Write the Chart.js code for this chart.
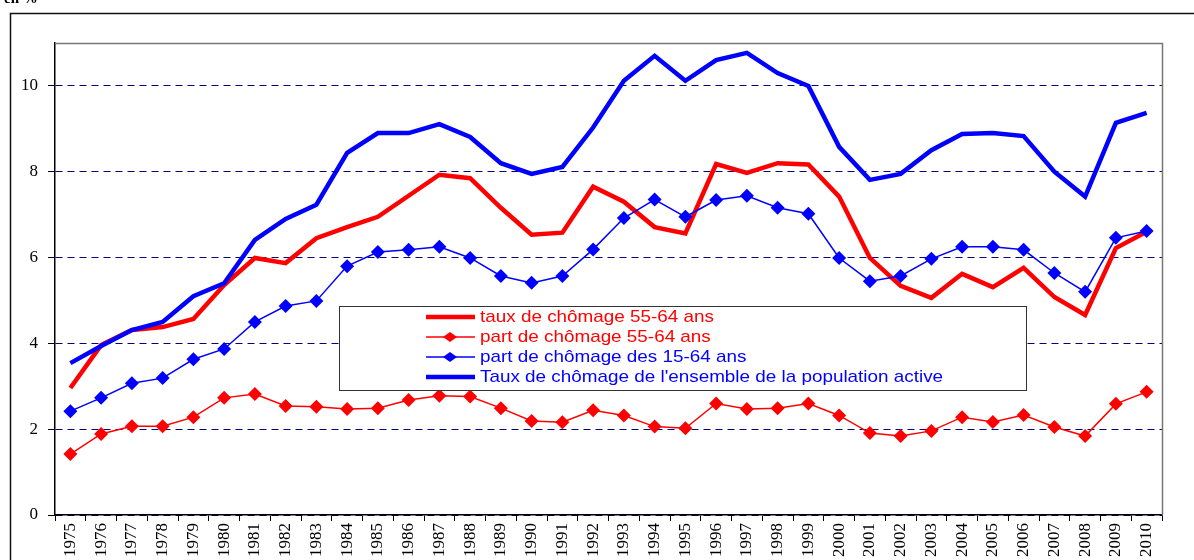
<!DOCTYPE html>
<html>
<head>
<meta charset="utf-8">
<script src="https://cdn.jsdelivr.net/npm/chart.js@4"></script>
<style>
  html, body { margin: 0; padding: 0; background: #fff; }
  #wrap { width: 1194px; height: 560px; position: relative; overflow: hidden; }
</style>
</head>
<body>
<div id="wrap"><canvas id="chart" width="1194" height="560"></canvas></div>
<script>
// Données (en %)
const annees = ['1975', '1976', '1977', '1978', '1979', '1980', '1981', '1982', '1983', '1984',
    '1985', '1986', '1987', '1988', '1989', '1990', '1991', '1992', '1993', '1994',
    '1995', '1996', '1997', '1998', '1999', '2000', '2001', '2002', '2003', '2004',
    '2005', '2006', '2007', '2008', '2009', '2010'];

const tauxChomage5564 = [2.96, 3.96, 4.31, 4.38, 4.57, 5.36, 5.99, 5.87, 6.45, 6.71,
    6.95, 7.44, 7.93, 7.85, 7.16, 6.53, 6.58, 7.65, 7.3, 6.71,
    6.56, 8.18, 7.97, 8.2, 8.17, 7.42, 5.99, 5.34, 5.06, 5.62,
    5.31, 5.76, 5.08, 4.66, 6.22, 6.6];

const partChomage5564 = [1.42, 1.89, 2.07, 2.07, 2.28, 2.73, 2.82, 2.54, 2.52, 2.47,
    2.49, 2.68, 2.78, 2.76, 2.49, 2.19, 2.16, 2.44, 2.32, 2.06,
    2.02, 2.6, 2.47, 2.49, 2.6, 2.32, 1.91, 1.84, 1.96, 2.28,
    2.17, 2.33, 2.05, 1.84, 2.59, 2.87];

const partChomage1564 = [2.42, 2.73, 3.07, 3.19, 3.63, 3.87, 4.5, 4.87, 4.99, 5.8,
    6.13, 6.18, 6.25, 5.99, 5.57, 5.41, 5.57, 6.19, 6.92, 7.35,
    6.95, 7.34, 7.44, 7.16, 7.02, 5.99, 5.45, 5.57, 5.97, 6.25,
    6.25, 6.18, 5.64, 5.2, 6.46, 6.62];

const tauxEnsemble = [3.54, 3.94, 4.31, 4.5, 5.1, 5.4, 6.41, 6.9, 7.23, 8.44,
    8.9, 8.9, 9.11, 8.81, 8.2, 7.95, 8.11, 9.03, 10.12, 10.7,
    10.12, 10.6, 10.77, 10.3, 10.0, 8.58, 7.81, 7.95, 8.5, 8.88,
    8.9, 8.83, 8.0, 7.42, 9.14, 9.37];

const yTicks = [0, 2, 4, 6, 8, 10];

// Cadre extérieur + bordures haut/droite de la zone de tracé
const cadrePlugin = {
    id: 'cadre',
    beforeDraw(chart) {
        const ctx = chart.ctx;
        ctx.save();
        ctx.fillStyle = '#fff';
        ctx.fillRect(0, 0, chart.width, chart.height);
        ctx.strokeStyle = '#111';
        ctx.lineWidth = 1.5;
        ctx.strokeRect(10.5, 13.5, 1300, 700);
        // petit texte coupé en haut à gauche
        ctx.fillStyle = '#000';
        ctx.font = 'bold 15px "Liberation Serif"';
        ctx.fillText('en %', 4, 3);
        ctx.restore();
    },
    afterDraw(chart) {
        const ctx = chart.ctx;
        const a = chart.chartArea;
        ctx.save();
        ctx.strokeStyle = '#777';
        ctx.lineWidth = 1.5;
        ctx.beginPath();
        ctx.moveTo(a.left, a.top + 0.5);
        ctx.lineTo(a.right + 0.5, a.top + 0.5);
        ctx.lineTo(a.right + 0.5, a.bottom);
        ctx.stroke();
        ctx.restore();
    }
};

// Légende encadrée au milieu du graphique
const legendePlugin = {
    id: 'legende',
    afterDraw(chart) {
        const ctx = chart.ctx;
        const box = { x: 339.5, y: 306.5, w: 687, h: 84 };
        ctx.save();
        ctx.fillStyle = '#fff';
        ctx.fillRect(box.x, box.y, box.w, box.h);
        ctx.strokeStyle = '#333';
        ctx.lineWidth = 1;
        ctx.strokeRect(box.x, box.y, box.w, box.h);
        ctx.font = '17px "Liberation Sans", Arial, sans-serif';
        ctx.textBaseline = 'middle';
        const rows = [317, 337, 357, 377];
        chart.data.datasets.forEach((ds, i) => {
            const y = rows[i];
            ctx.strokeStyle = ds.borderColor;
            ctx.lineWidth = ds.borderWidth;
            ctx.beginPath();
            ctx.moveTo(426, y);
            ctx.lineTo(475, y);
            ctx.stroke();
            if (ds.pointRadius > 0) {
                ctx.fillStyle = ds.borderColor;
                ctx.beginPath();
                ctx.moveTo(450, y - 5);
                ctx.lineTo(457, y);
                ctx.lineTo(450, y + 5);
                ctx.lineTo(443, y);
                ctx.closePath();
                ctx.fill();
            }
            // texte un peu étiré en largeur comme dans l'original
            ctx.save();
            ctx.translate(480, y);
            ctx.scale(1.11, 1);
            ctx.fillStyle = ds.borderColor;
            ctx.fillText(ds.label, 0, 0);
            ctx.restore();
        });
        ctx.restore();
    }
};

new Chart(document.getElementById('chart'), {
    type: 'line',
    data: {
        labels: annees,
        datasets: [{
            label: 'taux de chômage 55-64 ans',
            data: tauxChomage5564,
            borderColor: '#ff0000',
            backgroundColor: '#ff0000',
            borderWidth: 4.5,
            pointRadius: 0,
            tension: 0,
            order: 4
        }, {
            label: 'part de chômage 55-64 ans',
            data: partChomage5564,
            borderColor: '#ff0000',
            backgroundColor: '#ff0000',
            borderWidth: 1.5,
            pointStyle: 'rectRot',
            pointRadius: 7,
            pointBorderWidth: 0,
            tension: 0,
            order: 3
        }, {
            label: 'part de chômage des 15-64 ans',
            data: partChomage1564,
            borderColor: '#0000ff',
            backgroundColor: '#0000ff',
            borderWidth: 1.5,
            pointStyle: 'rectRot',
            pointRadius: 7,
            pointBorderWidth: 0,
            tension: 0,
            order: 2
        }, {
            label: "Taux de chômage de l'ensemble de la population active",
            data: tauxEnsemble,
            borderColor: '#0000ff',
            backgroundColor: '#0000ff',
            borderWidth: 4.5,
            pointRadius: 0,
            tension: 0,
            order: 1
        }]
    },
    options: {
        responsive: false,
        animation: false,
        devicePixelRatio: 1,
        layout: { padding: { left: 0, top: 43, right: 32, bottom: 0 } },
        plugins: {
            legend: { display: false },
            tooltip: { enabled: false }
        },
        scales: {
            x: {
                offset: true,
                grid: {
                    offset: true,
                    drawOnChartArea: false,
                    drawTicks: true,
                    tickLength: 6,
                    color: '#000'
                },
                border: { color: '#000', width: 1.5 },
                ticks: {
                    minRotation: 90,
                    maxRotation: 90,
                    autoSkip: false,
                    padding: 2,
                    color: '#000',
                    font: { family: '"Liberation Serif", "Times New Roman", serif', size: 17 }
                },
                afterFit(scale) { scale.height = 45; }
            },
            y: {
                min: 0,
                max: 11,
                afterBuildTicks(scale) {
                    scale.ticks = yTicks.map(v => ({ value: v }));
                },
                grid: {
                    color: '#000080',
                    lineWidth: 1,
                    drawTicks: true,
                    tickLength: 7,
                    tickColor: '#000'
                },
                border: { color: '#000', width: 1.5, dash: [7, 5] },
                ticks: {
                    padding: 10,
                    color: '#000',
                    font: { family: '"Liberation Serif", "Times New Roman", serif', size: 17 }
                },
                afterFit(scale) { scale.width = 55; }
            }
        }
    },
    plugins: [cadrePlugin, legendePlugin]
});
</script>
</body>
</html>
